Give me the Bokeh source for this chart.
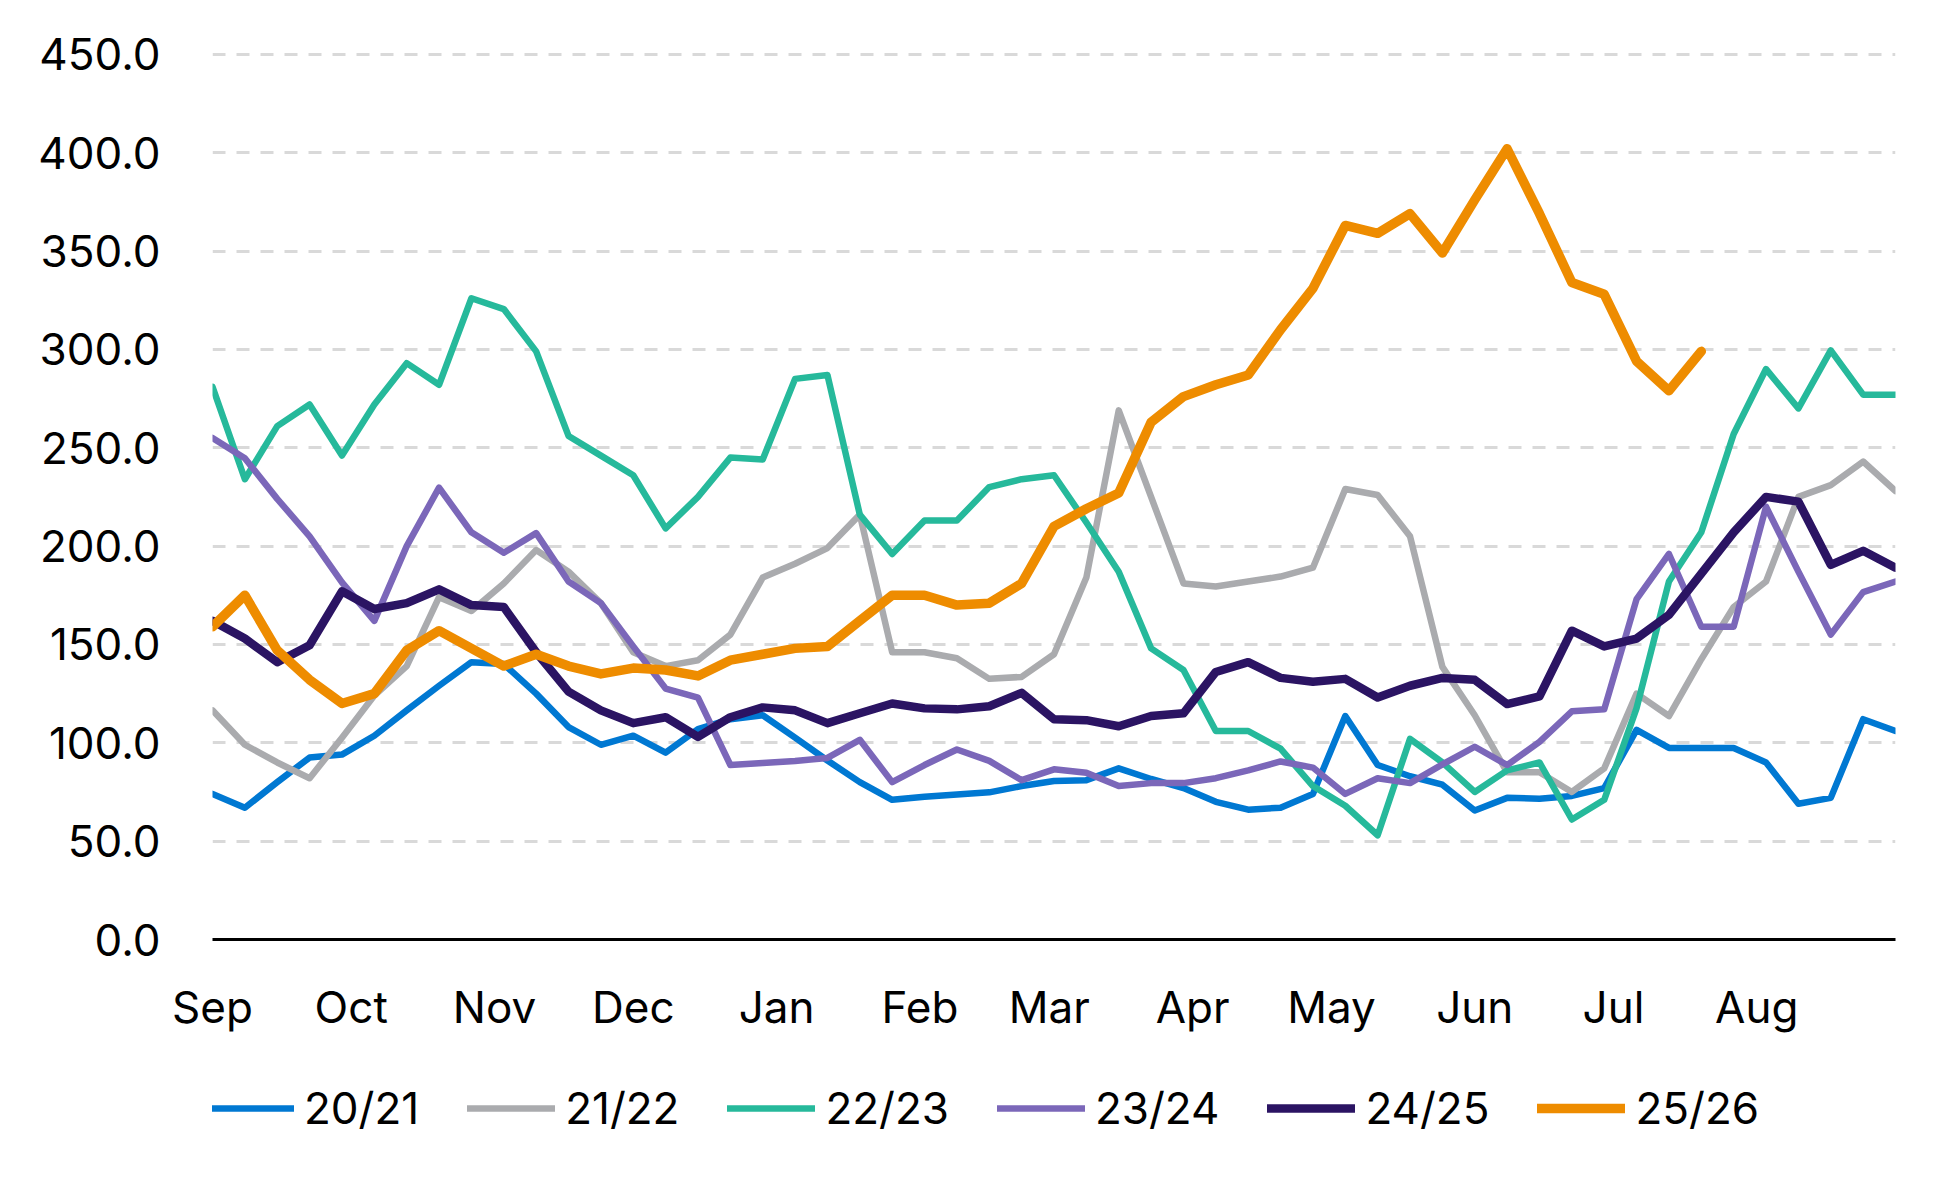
from bokeh.plotting import figure
from bokeh.layouts import column
from bokeh.models import Range1d, FixedTicker, PrintfTickFormatter, Legend, LegendItem
from bokeh.embed import file_html
from bokeh.resources import INLINE

# ---------------- data ----------------
month_labels = ["Sep", "Oct", "Nov", "Dec", "Jan", "Feb", "Mar", "Apr", "May", "Jun", "Jul", "Aug"]
month_start_day = [0, 30, 61, 91, 122, 153, 181, 212, 242, 273, 303, 334]   # days after 1 Sep
week_day = [7 * i for i in range(53)]                                        # weekly observations

y_ticks = [0, 50, 100, 150, 200, 250, 300, 350, 400, 450]

s2021 = [74, 67, 80, 92.5, 94, 103.6, 116.5, 129, 141, 140, 125, 108, 99,
         103.6, 95, 107, 112, 114, 102.6, 91, 80, 71, 72.6, 73.7, 74.8, 78, 80.6,
         81, 87, 81.6, 77, 70, 66, 67, 74, 113.6, 88.7, 83, 78.7, 65.6,
         72, 71.6, 73, 77, 106.6, 97.4, 97.4, 97.4, 90, 69, 72, 112, 106]
s2122 = [116.5, 99, 90, 82, 102.6, 124, 139, 174, 167, 181, 198, 187, 171,
         146, 139, 142, 155, 184, 191, 199, 216, 146, 146, 143, 132.5, 133.5, 145,
         184, 269, 225, 181, 179.5, 182, 184.5, 189, 229, 226, 205, 138.6, 114,
         85, 85, 75, 87, 125, 113.6, 142.5, 169, 182, 225, 231, 243, 228]
s2223 = [281, 234, 261, 272, 246, 272, 293, 282, 326, 320.5, 299, 256, 246,
         236, 209, 225, 245, 244, 285, 287, 216, 196, 213, 213, 230, 234, 236,
         212, 187, 148, 137, 106, 106, 97, 78, 68, 53, 102, 90, 75,
         86, 90, 61, 71, 117.6, 182, 207, 257, 290, 270, 299.5, 277, 277]
s2324 = [255, 244.7, 224, 205, 181.6, 162, 200, 229.7, 207, 196.6, 206.6, 182, 171,
         149, 127.6, 123, 88.7, 89.7, 90.8, 92.3, 101.5, 80, 88.7, 96.6, 90.8, 81, 86.5,
         84.8, 78, 79.5, 79.5, 82, 86, 90.5, 87.4, 74, 82, 79.5, 89, 98,
         88.7, 100.5, 116, 117, 173, 196, 159, 159, 220, 187, 155, 176.6, 182]
s2425 = [162, 153, 141, 149.6, 177, 168, 171, 178, 170, 169, 146, 126, 116.5,
         110, 113, 103, 113, 118, 116.5, 110, 115, 120, 117.5, 117, 118.6, 125.4, 112,
         111.5, 108.4, 113.6, 115, 136, 141, 133, 131, 132.5, 123, 129, 133, 132,
         119.7, 123.6, 157, 149, 153, 165, 186, 207, 225, 222.6, 190.5, 197.6, 189]
s2526 = [159, 175, 147, 132, 120, 125, 147, 157, 148, 139, 145, 139, 135, 138,
         137, 134, 142, 145, 148, 149, 162, 175, 175, 170, 171, 181, 210,
         219, 227, 263, 276, 282, 287, 310, 331, 363, 359, 369, 349, 376,
         402, 369, 334, 328, 294, 279, 299]

series_names = ["20/21", "21/22", "22/23", "23/24", "24/25", "25/26"]
series_values = [s2021, s2122, s2223, s2324, s2425, s2526]
series_colors = ["#0078D2", "#AAABAE", "#26B99B", "#7B67B9", "#2B1463", "#EE8C00"]
series_widths = [6.5, 6.5, 6.5, 6.5, 8.5, 9.5]

FONT = "Inter"
FSIZE = "44px"
W = 1933

# ---------------- main chart ----------------
p = figure(width=W, height=1044, output_backend="svg", toolbar_location=None,
           x_range=Range1d(0, 364), y_range=Range1d(0, 455),
           min_border_left=212, min_border_right=38, min_border_top=44, min_border_bottom=105)
p.outline_line_color = None
p.background_fill_color = "white"
p.border_fill_color = "white"

for name, vals, col, w in zip(series_names, series_values, series_colors, series_widths):
    p.line(week_day[:len(vals)], vals, line_color=col, line_width=w,
           line_join="round", line_cap="round")

p.xgrid.grid_line_color = None
p.ygrid.ticker = FixedTicker(ticks=y_ticks)
p.ygrid.grid_line_color = "#D9D9D9"
p.ygrid.grid_line_width = 3
p.ygrid.grid_line_dash = "13 11"

ya = p.yaxis[0]
ya.ticker = FixedTicker(ticks=y_ticks)
ya.formatter = PrintfTickFormatter(format="%.1f")
ya.axis_line_color = None
ya.major_tick_line_color = None
ya.minor_tick_line_color = None
ya.major_tick_out = 0
ya.major_tick_in = 0
ya.major_label_standoff = 52
ya.major_label_text_font = FONT
ya.major_label_text_font_size = FSIZE
ya.major_label_text_color = "#000000"

xa = p.xaxis[0]
xa.ticker = FixedTicker(ticks=month_start_day)
xa.major_label_overrides = {d: m for d, m in zip(month_start_day, month_labels)}
xa.axis_line_color = "#000000"
xa.axis_line_width = 3
xa.major_tick_line_color = None
xa.minor_tick_line_color = None
xa.major_tick_out = 0
xa.major_tick_in = 0
xa.major_label_standoff = 40
xa.major_label_text_font = FONT
xa.major_label_text_font_size = FSIZE
xa.major_label_text_color = "#000000"

# ---------------- legend strip (series lines kept out of its visible range) ----------------
lg = figure(width=W, height=125, output_backend="svg", toolbar_location=None,
            x_range=Range1d(0, 364), y_range=Range1d(-20, -10),
            x_axis_type=None, y_axis_type=None, min_border=0)
lg.outline_line_color = None
lg.xgrid.grid_line_color = None
lg.ygrid.grid_line_color = None
lg.background_fill_color = "white"
lg.border_fill_color = "white"

items = []
for name, vals, col, w in zip(series_names, series_values, series_colors, series_widths):
    r = lg.line(week_day[:len(vals)], vals, line_color=col, line_width=w, line_cap="round")
    items.append(LegendItem(label=name, renderers=[r]))

legend = Legend(items=items, orientation="horizontal", location=(-6, 34),
                glyph_width=88, glyph_height=40, label_standoff=10, spacing=48,
                padding=0, margin=0,
                label_text_font=FONT, label_text_font_size=FSIZE,
                label_text_color="#000000",
                background_fill_alpha=0, border_line_color=None)
lg.add_layout(legend, "center")

layout = column(p, lg, spacing=0)
open("out.html", "w").write(file_html(layout, INLINE))
